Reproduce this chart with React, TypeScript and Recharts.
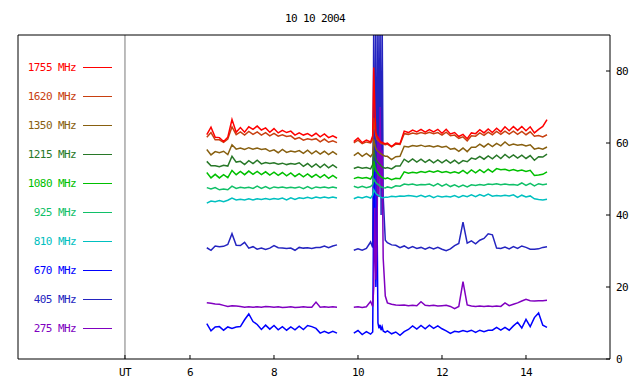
import { Line, LineChart, ReferenceLine, XAxis, YAxis } from "recharts";

const TITLE = "10 10 2004";
const UT_HOUR = 4.452;
const X_MIN = 1.905;
const X_MAX = 16;
const xTicks = [UT_HOUR, 6, 8, 10, 12, 14];
const topTicks = [6, 8, 10, 12, 14];
const yTicks = [0, 20, 40, 60, 80];
const GAP_HOUR = 9.7;

// first observing block
const hoursA = [
  6.4, 6.5, 6.6, 6.7, 6.8, 6.9, 7.0, 7.1, 7.2, 7.3,
  7.4, 7.5, 7.6, 7.7, 7.8, 7.9, 8.0, 8.1, 8.2, 8.3,
  8.4, 8.5, 8.6, 8.7, 8.8, 8.9, 9.0, 9.1, 9.2, 9.3,
  9.4, 9.5,
];
// second block, finer around the burst
const hoursB = [
  9.9, 10.0, 10.1, 10.2, 10.3, 10.35, 10.375, 10.4, 10.425, 10.45,
  10.475, 10.5, 10.525, 10.55, 10.575, 10.6, 10.65, 10.7, 10.8, 10.9,
  11.0, 11.1, 11.2, 11.3, 11.4, 11.5, 11.6, 11.7, 11.8, 11.9,
  12.0, 12.1, 12.2, 12.3, 12.4, 12.5, 12.6, 12.7, 12.8, 12.9,
  13.0, 13.1, 13.2, 13.3, 13.4, 13.5, 13.6, 13.7, 13.8, 13.9,
  14.0, 14.1, 14.2, 14.3, 14.4, 14.5,
];

const f1755A = [
  62.3, 64.4, 61.6, 61.5, 60.4, 61.6, 66.5, 63.0, 64.3, 63.0,
  64.5, 63.8, 64.7, 63.6, 64.2, 63.0, 64.0, 62.8, 63.5, 62.9,
  63.3, 62.2, 62.8, 62.2, 62.6, 61.9, 62.7, 61.7, 62.5, 61.5,
  62.0, 61.4,
];
const f1755B = [
  60.4, 61.4, 60.1, 60.8, 60.3, 62.0, 81.0, 70.0, 63.0, 62.0,
  61.5, 61.0, 60.5, 60.2, 60.2, 60.0, 59.8, 60.0, 59.0, 60.0,
  59.8, 63.3, 62.9, 63.6, 63.1, 63.8, 63.0, 63.7, 63.1, 63.8,
  62.7, 63.8, 62.5, 62.9, 61.8, 62.4, 61.2, 62.8, 62.6, 63.7,
  62.8, 63.9, 62.9, 64.1, 63.1, 64.5, 63.4, 64.6, 63.5, 64.6,
  63.4, 64.5, 62.8, 63.8, 64.6, 66.5,
];
const f1620A = [
  61.6, 62.9, 60.9, 60.9, 60.2, 61.1, 64.5, 62.3, 63.1, 62.2,
  63.2, 62.4, 63.1, 62.2, 62.9, 62.0, 62.7, 61.9, 62.3, 61.8,
  62.0, 61.1, 61.5, 60.8, 61.2, 60.9, 61.2, 60.3, 61.1, 60.2,
  60.6, 60.1,
];
const f1620B = [
  60.0, 60.8, 59.8, 60.3, 60.0, 61.0, 67.0, 64.0, 62.0, 61.0,
  60.7, 60.5, 60.2, 59.9, 59.8, 59.7, 59.5, 59.7, 58.9, 59.7,
  59.6, 62.6, 62.4, 62.8, 62.5, 62.9, 62.6, 63.0, 62.6, 62.9,
  62.2, 63.0, 62.0, 62.2, 61.3, 61.7, 60.6, 62.0, 61.9, 62.8,
  62.1, 63.0, 62.3, 63.2, 62.4, 63.3, 62.5, 63.3, 62.4, 63.2,
  62.3, 63.1, 61.9, 62.1, 61.7, 62.3,
];
const f1350A = [
  58.2, 56.7, 57.6, 57.3, 57.7, 56.8, 59.5, 58.3, 58.6, 58.2,
  58.7, 58.3, 58.6, 58.2, 58.4, 57.7, 58.1, 57.3, 58.2, 57.4,
  57.8, 57.5, 57.9, 57.1, 58.0, 57.0, 57.8, 56.9, 57.7, 56.8,
  57.6, 56.8,
];
const f1350B = [
  56.5, 57.3, 56.3, 57.1, 56.2, 57.0, 61.0, 59.5, 58.5, 58.0,
  57.7, 57.5, 57.2, 57.0, 56.8, 56.6, 56.3, 56.3, 55.4, 56.2,
  56.3, 59.1, 58.9, 59.3, 59.1, 59.4, 59.0, 59.2, 58.9, 59.2,
  58.8, 59.1, 58.3, 58.5, 57.7, 58.6, 57.6, 58.8, 58.8, 59.7,
  58.9, 59.8, 59.0, 59.9, 59.2, 60.3, 59.3, 59.7, 59.4, 59.6,
  59.2, 59.5, 58.3, 58.6, 58.3, 58.9,
];
const f1215A = [
  54.9, 53.7, 53.7, 53.4, 53.8, 53.6, 56.3, 54.7, 54.9, 54.0,
  55.1, 54.3, 55.2, 54.2, 54.6, 54.3, 54.5, 54.1, 54.4, 54.0,
  54.3, 54.1, 54.5, 53.5, 54.3, 53.3, 54.2, 53.2, 54.1, 53.1,
  53.9, 53.1,
];
const f1215B = [
  52.9, 53.3, 53.0, 53.2, 52.8, 54.0, 58.0, 56.5, 55.5, 55.0,
  54.6, 54.3, 54.0, 53.6, 53.4, 53.2, 53.0, 53.2, 52.8, 53.6,
  53.6, 55.5, 54.7, 55.6, 54.7, 55.5, 54.6, 55.4, 54.5, 55.3,
  54.5, 55.3, 54.4, 55.2, 54.3, 55.1, 54.8, 55.8, 55.5, 56.3,
  55.5, 56.4, 55.6, 56.6, 55.7, 56.8, 55.9, 56.7, 55.8, 56.6,
  55.7, 56.5, 55.2, 56.2, 56.1, 56.9,
];
const f1080A = [
  51.8, 50.3, 51.3, 50.3, 51.2, 50.4, 52.4, 51.2, 52.1, 51.2,
  52.2, 51.3, 52.1, 51.2, 52.0, 51.1, 51.9, 51.0, 51.8, 50.9,
  51.7, 50.7, 51.5, 50.6, 51.4, 50.5, 51.3, 50.4, 51.2, 50.2,
  51.0, 50.2,
];
const f1080B = [
  50.1, 50.5, 50.2, 50.4, 50.0, 51.0, 55.0, 53.5, 52.5, 52.0,
  51.6, 51.2, 50.9, 50.6, 50.4, 50.3, 50.1, 50.3, 49.8, 50.2,
  50.1, 52.0, 51.6, 51.9, 51.7, 52.1, 51.8, 52.2, 51.9, 52.3,
  51.8, 52.1, 51.7, 52.0, 51.6, 52.4, 51.5, 52.5, 51.7, 52.6,
  51.8, 52.7, 51.9, 52.9, 52.6, 52.7, 52.3, 52.6, 52.2, 52.5,
  52.1, 52.4, 51.0, 51.1, 51.3, 52.0,
];
const f925A = [
  47.6, 47.2, 47.6, 47.0, 47.2, 47.0, 48.0, 47.4, 47.7, 47.5,
  47.7, 47.4, 48.0, 47.4, 47.9, 47.3, 47.8, 47.6, 47.8, 47.5,
  47.7, 47.5, 47.8, 47.3, 47.9, 47.3, 47.8, 47.6, 47.8, 47.5,
  47.8, 47.5,
];
const f925B = [
  48.0, 47.6, 48.0, 47.6, 47.9, 48.5, 50.0, 49.5, 49.0, 48.7,
  48.5, 48.3, 48.0, 47.8, 47.7, 47.6, 47.5, 47.8, 47.5, 48.1,
  48.0, 48.6, 48.4, 48.6, 48.3, 48.5, 48.4, 48.6, 48.1, 48.7,
  48.0, 48.6, 47.9, 48.4, 47.8, 48.3, 47.8, 48.4, 48.2, 48.5,
  48.3, 48.6, 48.5, 48.7, 48.4, 48.6, 48.4, 48.5, 48.3, 48.9,
  48.2, 48.8, 48.1, 48.7, 48.4, 48.6,
];
const f810A = [
  43.3, 43.9, 43.7, 44.0, 43.7, 44.1, 44.7, 44.2, 44.4, 44.2,
  44.5, 44.2, 44.5, 44.3, 44.6, 44.3, 44.6, 44.4, 44.7, 44.2,
  44.8, 44.3, 44.8, 44.6, 44.9, 44.6, 45.0, 44.7, 45.0, 44.7,
  45.0, 44.7,
];
const f810B = [
  44.5, 45.0, 44.7, 45.1, 44.7, 45.5, 47.0, 46.5, 46.0, 45.7,
  45.5, 45.3, 45.1, 44.9, 44.8, 44.8, 44.9, 44.9, 45.2, 45.1,
  45.3, 45.2, 45.4, 45.3, 45.1, 45.5, 45.0, 45.4, 44.8, 45.3,
  45.0, 45.2, 45.0, 45.4, 44.9, 45.4, 45.1, 45.6, 45.1, 45.7,
  45.2, 45.8, 45.2, 45.4, 45.3, 45.5, 45.3, 45.6, 44.9, 45.5,
  45.0, 45.3, 44.5, 44.3, 44.2, 44.4,
];
const f670A = [
  9.8, 7.8, 8.9, 9.0, 8.0, 8.9, 8.5, 8.9, 9.0, 10.9,
  12.5, 10.4, 9.6, 8.2, 9.4, 8.3, 9.3, 8.1, 9.0, 8.0,
  8.9, 8.1, 9.1, 8.2, 9.3, 9.0, 8.5, 7.2, 7.7, 7.2,
  7.7, 7.2,
];
const f670B = [
  7.2, 7.9, 6.8, 7.6, 6.9, 7.5, 45.0, 52.0, 20.0, 45.0,
  10.0, 8.5, 9.5, 8.0, 9.0, 7.8, 7.4, 7.8, 7.0, 7.5,
  6.6, 7.6, 8.2, 9.2, 8.3, 9.3, 8.4, 9.4, 8.5, 9.2,
  8.4, 7.8, 7.1, 7.7, 7.5, 7.9, 7.6, 8.0, 7.4, 8.0,
  7.6, 8.0, 8.0, 8.8, 8.0, 8.8, 8.0, 9.2, 10.2, 8.6,
  11.0, 9.0, 11.5, 12.8, 9.4, 8.8,
];
const f405A = [
  30.9, 30.2, 31.4, 31.2, 31.3, 31.8, 34.8, 31.6, 31.5, 32.4,
  30.8, 31.2, 30.5, 30.8, 30.4, 30.8, 31.5, 30.9, 30.8, 30.7,
  30.8, 30.2, 31.0, 30.8, 30.9, 30.7, 31.0, 31.0, 31.4, 30.9,
  31.4, 31.7,
];
const f405B = [
  30.2, 30.6, 30.2, 30.7, 32.5, 31.0, 95.0, 40.0, 95.0, 35.0,
  95.0, 50.0, 95.0, 40.0, 95.0, 45.0, 33.0, 32.3, 31.7, 31.6,
  30.9, 31.4, 30.7, 31.2, 30.7, 31.0, 30.5, 31.0, 30.6, 31.0,
  30.5, 30.1, 30.6, 31.5, 32.1, 38.0, 32.2, 32.8, 32.0, 33.0,
  33.5, 34.8, 34.5, 30.8, 30.7, 31.1, 30.6, 31.2, 30.7, 31.4,
  31.0, 30.5, 30.5, 30.6, 31.0, 31.2,
];
const f275A = [
  15.6, 15.5, 15.3, 15.2, 14.9, 14.6, 14.8, 14.7, 14.6, 14.4,
  14.5, 14.4, 14.5, 14.4, 14.6, 14.5, 14.4, 14.5, 14.3, 14.4,
  14.5, 14.3, 14.4, 14.5, 14.4, 14.4, 15.8, 14.4, 14.5, 14.4,
  14.5, 14.4,
];
const f275B = [
  14.4, 14.5, 14.3, 14.5, 16.0, 14.6, 20.0, 42.0, 22.0, 30.0,
  62.0, 45.0, 70.0, 48.0, 58.0, 28.0, 17.5, 15.6, 15.2, 15.0,
  14.9, 15.0, 14.8, 14.9, 14.8, 15.9, 14.9, 14.8, 14.9, 14.7,
  14.8, 14.9, 14.6, 14.0, 14.6, 21.5, 15.0, 14.7, 14.6, 14.7,
  14.6, 14.7, 14.6, 14.7, 14.6, 15.6, 14.8, 15.2, 15.6, 16.1,
  16.6, 16.2, 16.1, 16.2, 16.2, 16.3,
];

// legend order, top to bottom
const series = [
  { key: "f1755", label: "1755 MHz", color: "#ff0000", a: f1755A, b: f1755B },
  { key: "f1620", label: "1620 MHz", color: "#c84010", a: f1620A, b: f1620B },
  { key: "f1350", label: "1350 MHz", color: "#886010", a: f1350A, b: f1350B },
  { key: "f1215", label: "1215 MHz", color: "#287828", a: f1215A, b: f1215B },
  { key: "f1080", label: "1080 MHz", color: "#00c000", a: f1080A, b: f1080B },
  { key: "f925", label: "925 MHz", color: "#10c068", a: f925A, b: f925B },
  { key: "f810", label: "810 MHz", color: "#00c0c0", a: f810A, b: f810B },
  { key: "f670", label: "670 MHz", color: "#0000ff", a: f670A, b: f670B },
  { key: "f405", label: "405 MHz", color: "#2424c0", a: f405A, b: f405B },
  { key: "f275", label: "275 MHz", color: "#8000c0", a: f275A, b: f275B },
];
// paint order: blues first so the purple burst shows, red on top
const drawOrder = ["f405", "f670", "f275", "f810", "f925", "f1080", "f1215", "f1350", "f1620", "f1755"];

const rows = [
  ...hoursA.map((t, i) => ({ t, ...Object.fromEntries(series.map((s) => [s.key, s.a[i]])) })),
  { t: GAP_HOUR },
  ...hoursB.map((t, i) => ({ t, ...Object.fromEntries(series.map((s) => [s.key, s.b[i]])) })),
];

const mono = "DejaVu Sans Mono";
const tickFont = { fontFamily: mono, fontSize: 11, letterSpacing: -0.6, fill: "#000" };

export default function App() {
  const ordered = drawOrder.map((k) => series.find((s) => s.key === k)!);
  return (
    <div style={{ position: "absolute", left: 0, top: 0, width: 640, height: 384, background: "#fff" }}>
      <LineChart width={640} height={384} data={rows} margin={{ top: 34, right: 0, bottom: 0, left: 17 }}>
        <XAxis
          xAxisId="b"
          dataKey="t"
          type="number"
          domain={[X_MIN, X_MAX]}
          allowDataOverflow
          ticks={xTicks}
          interval={0}
          tickFormatter={(v) => (v === UT_HOUR ? "UT" : String(v))}
          height={25}
          tickSize={-4}
          tickMargin={13}
          stroke="#000"
          tick={tickFont}
        />
        <XAxis
          xAxisId="top"
          orientation="top"
          dataKey="t"
          type="number"
          domain={[X_MIN, X_MAX]}
          allowDataOverflow
          ticks={topTicks}
          interval={0}
          height={1}
          tickSize={-4}
          tick={false}
          stroke="#000"
        />
        <YAxis
          yAxisId="r"
          orientation="right"
          type="number"
          domain={[0, 90]}
          allowDataOverflow
          ticks={yTicks}
          interval={0}
          width={30}
          tickSize={-4}
          tickMargin={10}
          stroke="#000"
          tick={tickFont}
        />
        <YAxis yAxisId="l" orientation="left" type="number" domain={[0, 90]} width={1} tick={false} tickLine={false} stroke="#000" />
        <ReferenceLine xAxisId="b" yAxisId="r" x={UT_HOUR} stroke="#7a7a7a" strokeWidth={1} />
        {ordered.map((s) => (
          <Line
            key={s.key}
            xAxisId="b"
            yAxisId="r"
            dataKey={s.key}
            type="linear"
            stroke={s.color}
            strokeWidth={1.5}
            dot={false}
            activeDot={false}
            connectNulls={false}
            isAnimationActive={false}
          />
        ))}
      </LineChart>
      <svg width={640} height={384} style={{ position: "absolute", left: 0, top: 0, pointerEvents: "none" }}>
        <text x={315} y={18} textAnchor="middle" dominantBaseline="central" fontFamily={mono} fontSize={11} letterSpacing={-0.6}>
          {TITLE}
        </text>
        {series.map((s, i) => (
          <g key={s.key}>
            <text x={76} y={67.5 + i * 29} textAnchor="end" dominantBaseline="central" fontFamily={mono} fontSize={11} letterSpacing={-0.6} fill={s.color}>
              {s.label}
            </text>
            <line x1={83} x2={112} y1={67.5 + i * 29} y2={67.5 + i * 29} stroke={s.color} strokeWidth={1} />
          </g>
        ))}
      </svg>
    </div>
  );
}
